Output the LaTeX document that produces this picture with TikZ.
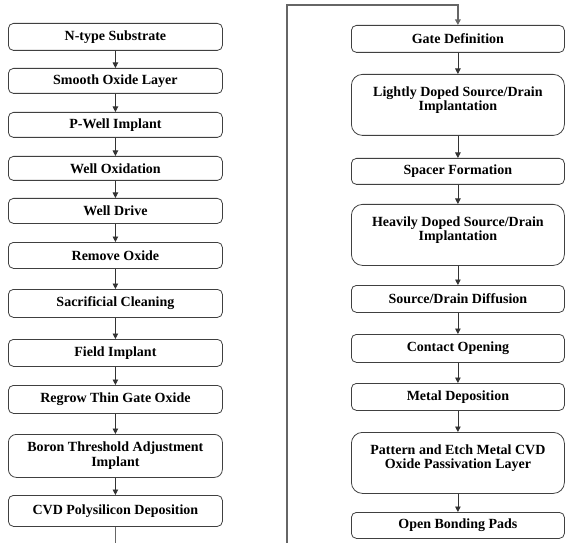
\documentclass[tikz,border=0pt]{standalone}
\usepackage{fontspec}
\setmainfont{Liberation Serif}
\usetikzlibrary{arrows.meta}
\begin{document}
\begin{tikzpicture}[x=1pt,y=-1pt,
  box/.style={draw=black!75, line width=0.8pt, rounded corners=5pt, anchor=north west, inner sep=0pt, font=\fontsize{14}{15.5}\selectfont\bfseries},
  tallbox/.style={box, rounded corners=11pt},
  flow/.style={draw=black!80, line width=0.8pt, -{Triangle[length=5.5pt,width=5.5pt]}},
  loop/.style={draw=black!60, line width=1.3pt, -{Triangle[length=5.5pt,width=5.5pt]}}]
\useasboundingbox (0,0) rectangle (566,543);
\clip (0,0) rectangle (566,543);
% left column
\node[box, minimum width=214pt, minimum height=27pt] (l1) at (8,23) {N-type Substrate};
\node[box, minimum width=214pt, minimum height=25pt] (l2) at (8,68) {Smooth Oxide Layer};
\node[box, minimum width=214pt, minimum height=25pt] (l3) at (8,112) {P-Well Implant};
\node[box, minimum width=214pt, minimum height=24pt] (l4) at (8,156) {Well Oxidation};
\node[box, minimum width=214pt, minimum height=25pt] (l5) at (8,198) {Well Drive};
\node[box, minimum width=214pt, minimum height=26pt] (l6) at (8,242) {Remove Oxide};
\node[box, minimum width=214pt, minimum height=28pt] (l7) at (8,289) {Sacrificial Cleaning};
\node[box, minimum width=214pt, minimum height=27pt] (l8) at (8,339) {Field Implant};
\node[box, minimum width=214pt, minimum height=28pt] (l9) at (8,385) {Regrow Thin Gate Oxide};
\node[box, rounded corners=8pt, minimum width=214pt, minimum height=43pt] (l10) at (8,434) {\begin{tabular}{@{}c@{}}Boron Threshold Adjustment\\[-1pt]Implant\end{tabular}};
\node[box, minimum width=214pt, minimum height=31pt] (l11) at (8,495) {CVD Polysilicon Deposition};
% right column
\node[box, minimum width=213pt, minimum height=27pt] (r1) at (351,25) {Gate Definition};
\node[tallbox, minimum width=213pt, text height=22pt, text depth=39pt] (r2) at (351,74) {\begin{tabular}[t]{@{}c@{}}Lightly Doped Source/Drain\\[-1pt]Implantation\end{tabular}};
\node[box, minimum width=213pt, minimum height=26pt] (r3) at (351,158) {Spacer Formation};
\node[tallbox, minimum width=213pt, text height=22pt, text depth=39pt] (r4) at (351,204) {\begin{tabular}[t]{@{}c@{}}Heavily Doped Source/Drain\\[-1pt]Implantation\end{tabular}};
\node[box, minimum width=213pt, minimum height=27pt] (r5) at (351,285) {Source/Drain Diffusion};
\node[box, minimum width=213pt, minimum height=28pt] (r6) at (351,334) {Contact Opening};
\node[box, minimum width=213pt, minimum height=27pt] (r7) at (351,383) {Metal Deposition};
\node[tallbox, minimum width=213pt, text height=22pt, text depth=39pt] (r8) at (351,432) {\begin{tabular}[t]{@{}c@{}}Pattern and Etch Metal CVD\\[-1pt]Oxide Passivation Layer\end{tabular}};
\node[box, minimum width=213pt, minimum height=26pt] (r9) at (351,512) {Open Bonding Pads};
% arrows
\foreach \a/\b in {l1/l2,l2/l3,l3/l4,l4/l5,l5/l6,l6/l7,l7/l8,l8/l9,l9/l10,l10/l11,
                   r1/r2,r2/r3,r3/r4,r4/r5,r5/r6,r6/r7,r7/r8,r8/r9}
  \draw[flow] (\a.south) -- (\b.north);
% loop from left column bottom to right column top
\coordinate (c1) at (l11.south |- 0,560);
\coordinate (c2) at (287,560);
\coordinate (c3) at (287,5);
\coordinate (c4) at (r1.north |- 0,5);
\draw[loop] (l11.south) -- (c1) -- (c2) -- (c3) -- (c4) -- (r1.north);
\end{tikzpicture}
\end{document}
